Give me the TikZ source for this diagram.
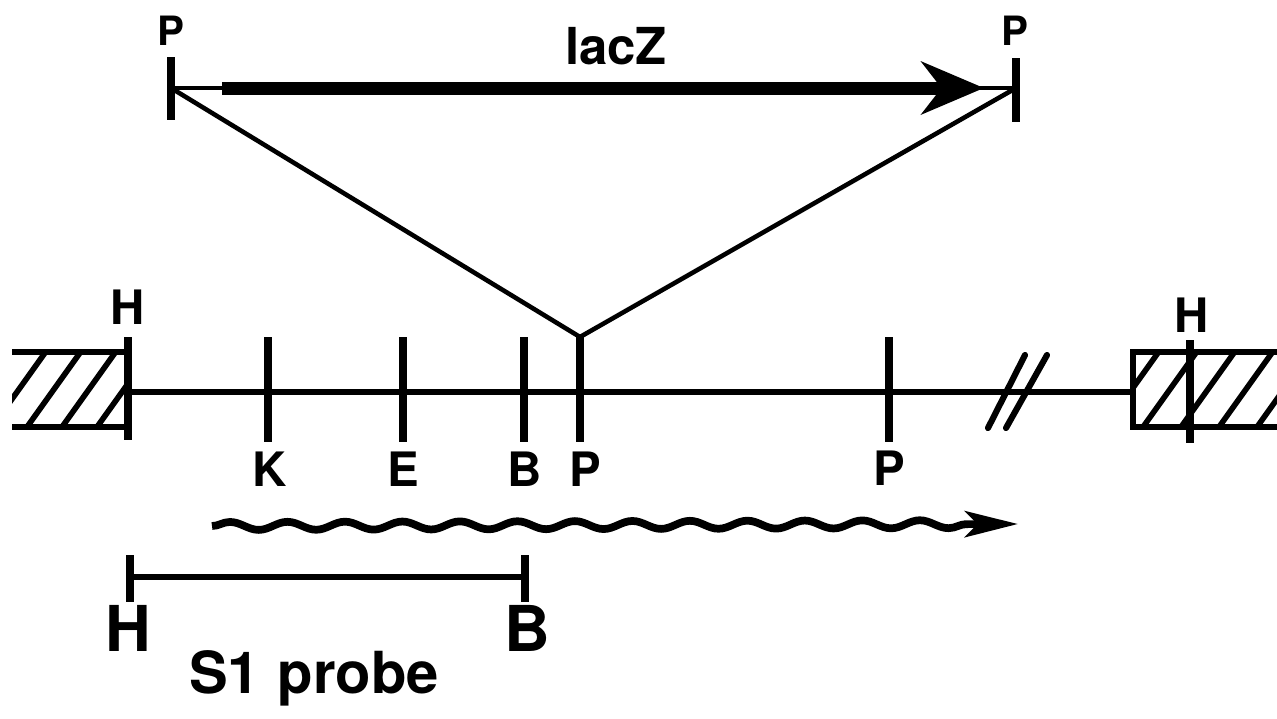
\documentclass[tikz,border=0pt]{standalone}
\usepackage{fontspec}
\setmainfont{TeX Gyre Heros}
\usetikzlibrary{arrows.meta}
\usetikzlibrary{decorations.pathmorphing}

\begin{document}
\begin{tikzpicture}[x=0.02cm,y=-0.02cm,
		lab/.style={inner sep=0pt,font=\bfseries\fontsize{#1}{#1}\selectfont},
		site/.style={line width=4.2pt},
		dna/.style={line width=3.5pt},
		hatch/.style={line width=3.2pt},
		vee/.style={line width=2.6pt},
		gene/.style={line width=7.4pt,-{Stealth[length=1.25cm,width=1.05cm,inset=0.4cm]}},
		wave/.style={line width=4.4pt,decorate,
			decoration={snake,amplitude=0.8mm,segment length=1.15cm,post length=0.9cm},
			-{Stealth[length=1.06cm,width=0.52cm,inset=0.25cm]}}]
		\useasboundingbox (0,0) rectangle (1277,718);

		% lacZ insert
		\coordinate (pl) at (171,88);
		\coordinate (pr) at (1016,88);
		\coordinate (pl-t) at (171,57);
		\coordinate (pl-b) at (171,120);
		\coordinate (pr-t) at (1016,58);
		\coordinate (pr-b) at (1016,122);
		\draw[site] (pl-t) -- (pl-b);
		\draw[site] (pr-t) -- (pr-b);
		\node[lab=23] (plab) at (171,31) {P};
		\node[lab=23] (prlab) at (1015,31) {P};
		\draw[vee] (pl) -- (pr);
		\coordinate (z1) at (222,88);
		\coordinate (z2) at (984,88);
		\draw[gene] (z1) -- (z2);
		\node[lab=29] (lacz) at (616,46) {lacZ};

		% where it goes in
		\coordinate (ins) at (580,337);
		\draw[vee] (pl) -- (ins) -- (pr);

		% the map
		\coordinate (h1) at (128,392);
		\coordinate (h2) at (1133,392);
		\draw[dna] (h1) -- (h2);

		% left vector part
		\coordinate (lb1) at (12,352);
		\coordinate (lb2) at (128,352);
		\coordinate (lb3) at (12,427);
		\coordinate (lb4) at (128,427);
		\begin{scope}
			\clip (lb1) rectangle (lb4);
			\foreach \x in {-8,27,62,97}
				\draw[hatch] (\x,427) -- ++(55,-77);
		\end{scope}
		\draw[dna] (lb1) -- (lb2);
		\draw[dna] (lb3) -- (lb4);
		\coordinate (hl-t) at (128,337);
		\coordinate (hl-b) at (128,440);
		\draw[site] (hl-t) -- (hl-b);
		\node[lab=27] (hlab) at (128,307) {H};

		% right vector part
		\coordinate (rb1) at (1133,352);
		\coordinate (rb2) at (1290,427);
		\begin{scope}
			\clip (rb1) rectangle (rb2);
			\foreach \x in {1105,1143,1181,1219,1257}
				\draw[hatch] (\x,427) -- ++(55,-77);
		\end{scope}
		\draw[dna] (1290,352) -- (rb1) -- (1133,427) -- (rb2);
		\coordinate (hr-t) at (1190,340);
		\coordinate (hr-b) at (1190,443);
		\draw[site] (hr-t) -- (hr-b);
		\node[lab=27] (hrlab) at (1192,315) {H};

		% sites
		\foreach \n/\x in {K/268,E/403,B/524,Pa/580,Pb/889}{
			\coordinate (\n-t) at (\x,337);
			\coordinate (\n-b) at (\x,442);
			\draw[site] (\n-t) -- (\n-b);
		}
		\node[lab=27,anchor=north] (klab) at (270,452) {K};
		\node[lab=27,anchor=north] (elab) at (403,452) {E};
		\node[lab=27,anchor=north] (blab) at (525,452) {B};
		\node[lab=27,anchor=north] (palab) at (585,452) {P};
		\node[lab=27,anchor=north] (pblab) at (889,451) {P};

		% break
		\draw[dna,line cap=round] (988,428) -- (1025,355);
		\draw[dna,line cap=round] (1006,428) -- (1047,355);

		% transcript
		\coordinate (w1) at (212,526);
		\coordinate (w2) at (1018,524);
		\draw[wave] (w1) -- (w2);

		% S1 probe
		\coordinate (s1) at (130,577);
		\coordinate (s2) at (525,577);
		\draw[dna] (s1) -- (s2);
		\draw[site] (130,555) -- (130,602);
		\draw[site] (525,555) -- (525,602);
		\node[lab=36] (shlab) at (128,628) {H};
		\node[lab=36] (sblab) at (527,628) {B};
		\node[lab=33,anchor=base] (probe) at (314,693) {S1\hspace{0.3em}probe};
	\end{tikzpicture}
\end{document}
